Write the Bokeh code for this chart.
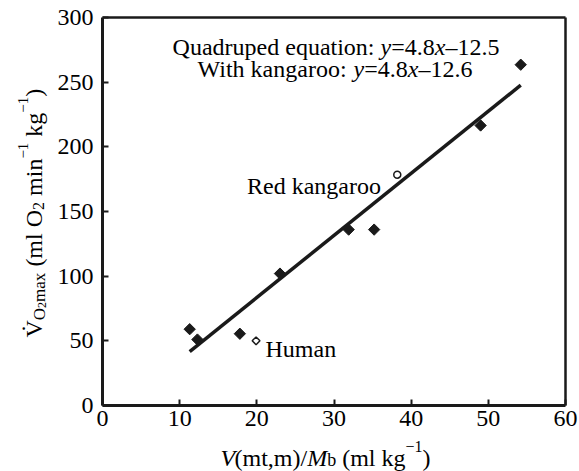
import math
from bokeh.plotting import figure
from bokeh.models import Label, Range1d, LinearAxis, FixedTicker
from bokeh.embed import file_html
from bokeh.resources import INLINE

# ---------------- data ----------------
quad_x = [11.3, 12.3, 17.8, 23.0, 31.9, 35.2, 49.0, 54.2]
quad_y = [59.0, 51.0, 55.5, 102.0, 136.0, 136.0, 216.5, 263.5]
kangaroo_x = [38.2]
kangaroo_y = [178.5]
human_x = [19.9]
human_y = [50.0]
fit_slope = 4.8
fit_intercept = -12.5
fit_x = [11.3, 54.2]
fit_y = [fit_slope * v + fit_intercept for v in fit_x]
x_ticks = [0, 10, 20, 30, 40, 50, 60]
y_ticks = [0, 50, 100, 150, 200, 250, 300]
X_MIN, X_MAX = 0, 60
Y_MIN, Y_MAX = 0, 300

FONT = "Liberation Serif"
INK = "#1a1a1a"

# ---------------- layout (page pixels of the data box) ----------------
W_FIG, H_FIG = 579, 471
FX0, FX1, FY1, FY0 = 102.0, 565.0, 17.0, 405.0


def dx(px):
    return X_MIN + (px - FX0) / (FX1 - FX0) * (X_MAX - X_MIN)


def dy(py):
    return Y_MIN + (FY0 - py) / (FY0 - FY1) * (Y_MAX - Y_MIN)


# frame spans the whole canvas; axes are drawn at fixed locations
p = figure(width=W_FIG, height=H_FIG, output_backend="svg", toolbar_location=None,
           x_range=Range1d(dx(0), dx(W_FIG)), y_range=Range1d(dy(H_FIG), dy(0)),
           min_border_left=0, min_border_right=0, min_border_top=0, min_border_bottom=0)
p.background_fill_color = "white"
p.border_fill_color = "white"
p.outline_line_color = None
p.xgrid.visible = False
p.ygrid.visible = False

x_axis = p.below[0]
y_axis = p.left[0]
x_axis.fixed_location = Y_MIN
x_axis.bounds = (X_MIN, X_MAX)
y_axis.fixed_location = X_MIN
y_axis.bounds = (Y_MIN, Y_MAX)

top_axis = LinearAxis(fixed_location=Y_MAX, bounds=(X_MIN, X_MAX),
                      ticker=FixedTicker(ticks=[]))
right_axis = LinearAxis(fixed_location=X_MAX, bounds=(Y_MIN, Y_MAX),
                        ticker=FixedTicker(ticks=[]))
for ax in (top_axis, right_axis):
    ax.major_tick_line_color = None
    ax.minor_tick_line_color = None
    ax.major_label_text_color = None
    ax.axis_line_color = INK
    ax.axis_line_width = 2.5
p.add_layout(top_axis, "above")
p.add_layout(right_axis, "right")

for ax, ticks in ((x_axis, x_ticks), (y_axis, y_ticks)):
    ax.ticker = FixedTicker(ticks=ticks)
    ax.axis_line_color = INK
    ax.axis_line_width = 3
    ax.minor_tick_line_color = None
    ax.major_tick_in = 6
    ax.major_tick_out = 0
    ax.major_tick_line_color = INK
    ax.major_tick_line_width = 2
    ax.major_label_text_font = FONT
    ax.major_label_text_font_size = "24px"
    ax.major_label_text_color = "black"
x_axis.major_label_standoff = 5
y_axis.major_label_standoff = 9

# ---------------- marks ----------------
p.line(fit_x, fit_y, line_color=INK, line_width=3.5)
p.scatter(quad_x, quad_y, marker="square", size=8, angle=math.pi / 4,
          fill_color=INK, line_color=INK, line_width=1)
p.scatter(kangaroo_x, kangaroo_y, marker="circle", size=7, fill_color="white",
          line_color=INK, line_width=1.5)
p.scatter(human_x, human_y, marker="square", size=5.5, angle=math.pi / 4,
          fill_color="white", line_color=INK, line_width=1.5)

# ---------------- rich text from pieces ----------------
WR = {' ': 250, '(': 333, ')': 333, ',': 250, '.': 250, '/': 278, ':': 278, '=': 564,
      '\u2013': 500, '\u2212': 564, '\u0307': 0,
      'Q': 722, 'W': 944, 'V': 722, 'O': 722, 'M': 889, 'R': 667, 'H': 722,
      'a': 444, 'b': 500, 'd': 500, 'e': 444, 'g': 500, 'h': 500, 'i': 278, 'k': 500,
      'l': 278, 'm': 778, 'n': 500, 'o': 500, 'p': 500, 'q': 500, 'r': 333, 't': 278,
      'u': 500, 'x': 500, 'y': 500}
WI = dict(WR)
WI.update({'V': 611, 'M': 833, 'x': 444, 'y': 444})


def width(text, size, italic):
    tab = WI if italic else WR
    return sum(tab.get(c, 500) for c in text) * size / 1000.0


def run(pieces, start, base, rotated=False):
    """pieces: (text, size, italic, shift[, anchor]) ; shift>0 = lower (subscript)."""
    pos = start
    sign = -1 if rotated else 1
    for pc in pieces:
        text, size, italic, shift = pc[:4]
        if len(pc) > 4 and pc[4] is not None:
            pos = pc[4]
        full_w = width(text, size, italic)
        lead = len(text) - len(text.lstrip(" "))
        shown = text.strip(" ")
        at = pos + sign * width(" " * lead, size, italic)
        kw = dict(text=shown, text_font=FONT, text_font_size=f"{size}px",
                  text_font_style="italic" if italic else "normal",
                  text_color="black", text_align="left", text_baseline="alphabetic")
        if rotated:
            p.add_layout(Label(x=dx(base + shift), y=dy(at), angle=math.pi / 2, **kw))
        else:
            p.add_layout(Label(x=dx(at), y=dy(base + shift), **kw))
        pos += sign * full_w


def centered(pieces, cx, base):
    total = sum(width(t, s, i) for t, s, i, _ in pieces)
    run(pieces, cx - total / 2.0, base)


# equations
centered([("Quadruped equation: ", 24, False, 0), ("y", 24, True, 0), ("=4.8", 24, False, 0),
          ("x", 24, True, 0), ("\u201312.5", 24, False, 0)], 335.5, 46.5)
centered([("With kangaroo: ", 24, False, 0), ("y", 24, True, 0), ("=4.8", 24, False, 0),
          ("x", 24, True, 0), ("\u201312.6", 24, False, 0)], 334.5, 68.5)

# point labels
run([("Red kangaroo", 24, False, 0)], 246.5, 185.0)
run([("Human", 24, False, 0)], 265.0, 348.0)

# x axis label
run([("V", 24, True, 0, 220.0), ("(mt,m)/", 24, False, 0, 234.0), ("M", 24, True, 0),
     ("b", 18, False, 2), (" (ml kg", 24, False, 0), ("\u22121", 16, False, -12),
     (")", 24, False, 0)], 220.0, 457.5)

# y axis label (rotated, reads bottom to top)
run([("V\u0307", 24, False, 0), ("O", 17, False, 5), ("2", 12, False, 8),
     ("max", 17, False, 5), (" (ml O", 24, False, 0), ("2", 16, False, 4),
     (" min", 24, False, 0), ("\u22121", 15, False, -11), (" kg", 24, False, 0),
     ("\u22121", 15, False, -11), (")", 24, False, 0)], 337.0, 33.5, rotated=True)

open("out.html", "w").write(file_html(p, INLINE))
